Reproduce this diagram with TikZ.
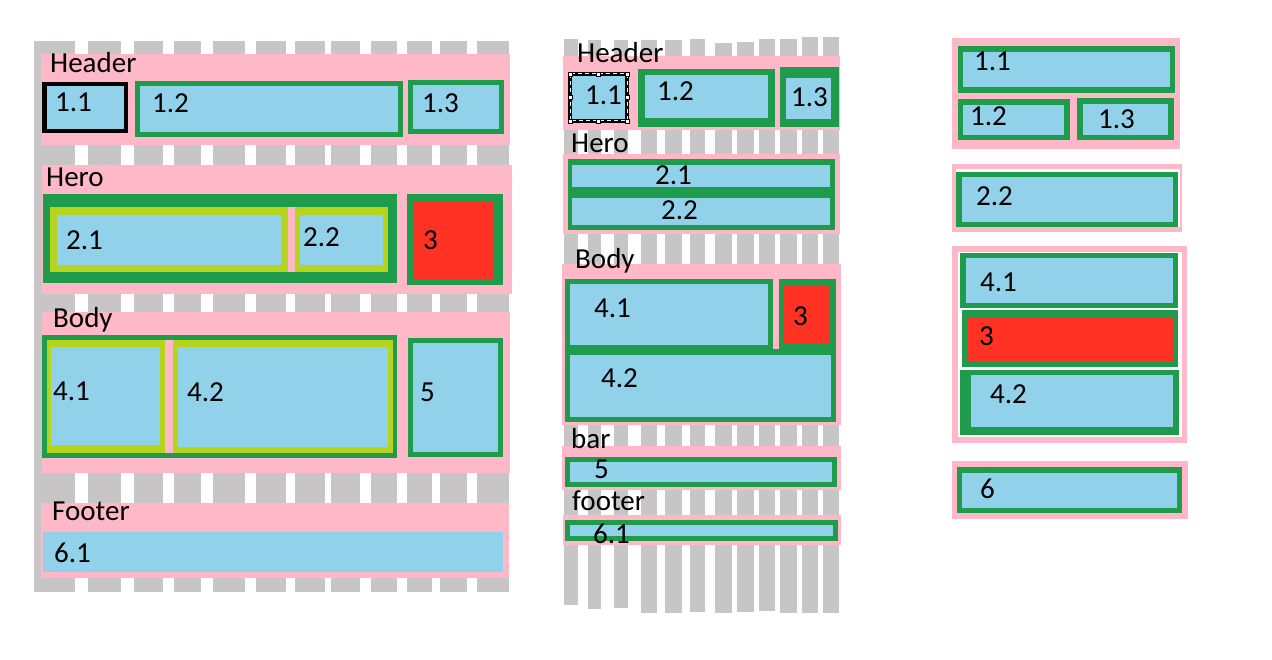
\documentclass[tikz,border=0pt]{standalone}
\usepackage{fontspec}
\setmainfont{Carlito}
\definecolor{pinkc}{RGB}{255,184,200}
\definecolor{grayc}{RGB}{199,197,197}
\definecolor{bluec}{RGB}{146,209,234}
\definecolor{greenc}{RGB}{30,155,75}
\definecolor{yelc}{RGB}{180,212,30}
\definecolor{redc}{RGB}{255,50,35}
\begin{document}
\begin{tikzpicture}[x=1pt,y=-1pt,
  lbl/.style={anchor=base west,inner sep=0pt,font=\fontsize{29}{31}\selectfont},
  handle/.style={fill=white,draw=black,line width=0.4pt}]
\useasboundingbox[fill=white] (0,0) rectangle (1272,660);

% ================= LEFT PANEL =================
\foreach \a/\b in {34/75,88/121,134/163,174/201,213/245,256/286,295/325,331/360,371/397,407/432,440/467,477/509}
  \fill[grayc] (\a,41) rectangle (\b,592);
% sections
\fill[pinkc] (41,54) rectangle (510,145);
\fill[pinkc] (42,165) rectangle (512,294);
\fill[pinkc] (42,312) rectangle (510,473);
\fill[pinkc] (41,503) rectangle (509,578);
% header boxes
\fill[black] (42,82) rectangle (128,133);
\fill[bluec] (47,86) rectangle (124,129);
\fill[greenc] (135,81) rectangle (403,137);
\fill[bluec] (140,86) rectangle (398,132);
\fill[greenc] (408,80) rectangle (504,134);
\fill[bluec] (413,85) rectangle (499,129);
% hero boxes
\fill[greenc] (43,194) rectangle (397,283);
\fill[pinkc] (288,207) rectangle (295,272);
\fill[yelc] (50,207) rectangle (288,272);
\fill[bluec] (57,215) rectangle (282,265);
\fill[yelc] (295,207) rectangle (388,272);
\fill[bluec] (300,215) rectangle (383,265);
\fill[greenc] (407,194) rectangle (503,285);
\fill[redc] (413,201) rectangle (494,280);
% body boxes
\fill[greenc] (42,335) rectangle (397,458);
\fill[pinkc] (165,340) rectangle (173,453);
\fill[yelc] (47,340) rectangle (165,453);
\fill[bluec] (51,347) rectangle (160,445);
\fill[yelc] (173,340) rectangle (393,453);
\fill[bluec] (178,347) rectangle (388,447);
\fill[greenc] (408,338) rectangle (503,457);
\fill[bluec] (413,343) rectangle (498,452);
% footer box
\fill[bluec] (43,532) rectangle (503,572);
% labels
\node[lbl] (lHeader) at (50,73) {Header};
\node[lbl] (l11) at (55,112) {1.1};
\node[lbl] (l12) at (152,113) {1.2};
\node[lbl] (l13) at (422,113) {1.3};
\node[lbl] (lHero) at (46,187) {Hero};
\node[lbl] (l21) at (66,250) {2.1};
\node[lbl] (l22) at (303,247) {2.2};
\node[lbl] (l3) at (423,250) {3};
\node[lbl] (lBody) at (53,327) {Body};
\node[lbl] (l41) at (53,400) {4.1};
\node[lbl] (l42) at (187,401) {4.2};
\node[lbl] (l5) at (420,401) {5};
\node[lbl] (lFooter) at (52,520) {Footer};
\node[lbl] (l61) at (54,562) {6.1};

% ================= MIDDLE PANEL =================
\foreach \a/\b/\t/\u in {564/578/39/605,588/601/40/609,614/628/40/608,641/657/40/613,665/682/40/613,690/705/39/612,715/732/43/613,737/754/42/612,759/775/39/611,780/797/39/613,802/818/37/613,823/839/37/613}
  \fill[grayc] (\a,\t) rectangle (\b,\u);
% header
\fill[pinkc] (563,56) rectangle (840,130);
\fill[bluec] (568,72) rectangle (629,123);
\draw[black,line width=4pt] (570,74) rectangle (627,121);
\draw[white,line width=1pt,dash pattern=on 4pt off 3pt] (570,74) rectangle (627,121);
\foreach \hx/\hy in {570/74,598.5/74,627/74,570/97.5,627/97.5,570/121,598.5/121,627/121}
  \filldraw[handle] (\hx-2,\hy-2) rectangle (\hx+2,\hy+2);
\fill[greenc] (638,69) rectangle (775,127);
\fill[bluec] (645,75) rectangle (768,118);
\fill[greenc] (780,67) rectangle (839,127);
\fill[bluec] (786,78) rectangle (831,119);
% hero
\fill[pinkc] (563,154) rectangle (840,234);
\fill[greenc] (568,159) rectangle (835,230);
\fill[bluec] (572,165) rectangle (830,187);
\fill[bluec] (572,198) rectangle (830,225);
% body
\fill[pinkc] (562,264) rectangle (841,425);
\fill[greenc] (565,279) rectangle (836,422);
\fill[pinkc] (773,279) rectangle (779,349);
\fill[bluec] (570,284) rectangle (768,345);
\fill[redc] (784,285) rectangle (830,343);
\fill[bluec] (570,355) rectangle (831,417);
% bar
\fill[pinkc] (562,446) rectangle (841,490);
\fill[greenc] (565,457) rectangle (837,487);
\fill[bluec] (570,462) rectangle (832,482);
% footer
\fill[pinkc] (563,515) rectangle (841,545);
\fill[greenc] (565,520) rectangle (838,541);
\fill[bluec] (570,525) rectangle (833,536);
% labels
\node[lbl] (mHeader) at (577,63) {Header};
\node[lbl] (m11) at (585,105) {1.1};
\node[lbl] (m12) at (657,101) {1.2};
\node[lbl] (m13) at (791,107) {1.3};
\node[lbl] (mHero) at (571,153) {Hero};
\node[lbl] (m21) at (655,185) {2.1};
\node[lbl] (m22) at (661,220) {2.2};
\node[lbl] (mBody) at (575,269) {Body};
\node[lbl] (m41) at (594,318) {4.1};
\node[lbl] (m3) at (793,326) {3};
\node[lbl] (m42) at (601,388) {4.2};
\node[lbl] (mbar) at (571,448) {bar};
\node[lbl] (m5) at (594,478) {5};
\node[lbl] (mfooter) at (572,510) {footer};
\node[lbl] (m61) at (593,543) {6.1};

% ================= RIGHT PANEL =================
\fill[pinkc] (952,38) rectangle (1180,149);
\fill[greenc] (958,46) rectangle (1175,93);
\fill[bluec] (963,52) rectangle (1170,87);
\fill[greenc] (958,99) rectangle (1070,140);
\fill[bluec] (963,105) rectangle (1064,135);
\fill[greenc] (1077,98) rectangle (1174,140);
\fill[bluec] (1083,104) rectangle (1168,135);
\fill[pinkc] (952,164) rectangle (1182,232);
\fill[white] (956,169.5) rectangle (1179.5,227);
\fill[greenc] (956,172) rectangle (1178,227);
\fill[bluec] (962,177) rectangle (1173,222);
\fill[pinkc] (952,246) rectangle (1187,443);
\fill[white] (958,252) rectangle (1182,437);
\fill[greenc] (960,253) rectangle (1178,308);
\fill[bluec] (966,258) rectangle (1173,303);
\fill[greenc] (962,310) rectangle (1178,367);
\fill[redc] (968,317) rectangle (1173,361);
\fill[greenc] (960,370) rectangle (1179,435);
\fill[bluec] (971,375) rectangle (1173,427);
\fill[pinkc] (952,461) rectangle (1188,519);
\fill[greenc] (957,467) rectangle (1182,513);
\fill[bluec] (962,473) rectangle (1177,508);
\node[lbl] (r11) at (974,71) {1.1};
\node[lbl] (r12) at (970,126) {1.2};
\node[lbl] (r13) at (1098,129) {1.3};
\node[lbl] (r22) at (976,206) {2.2};
\node[lbl] (r41) at (980,292) {4.1};
\node[lbl] (r3) at (979,345) {3};
\node[lbl] (r42) at (990,403) {4.2};
\node[lbl] (r6) at (980,498) {6};
\end{tikzpicture}
\end{document}
